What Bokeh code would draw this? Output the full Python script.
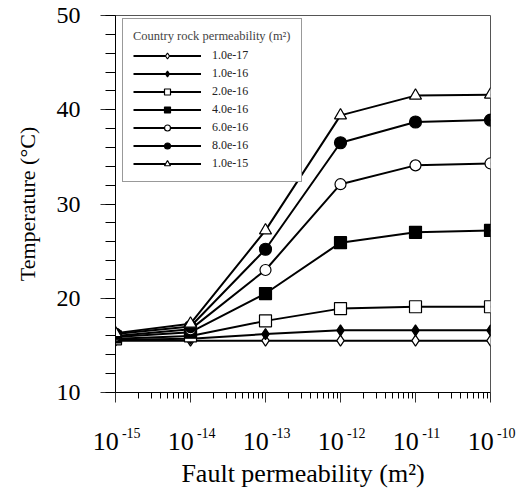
from bokeh.plotting import figure
from bokeh.models import (Range1d, FixedTicker, SingleIntervalTicker, CustomJSTickFormatter,
                          Legend, LegendItem, LogAxis)
from bokeh.embed import file_html
from bokeh.resources import INLINE

# ---- data ----
fault_perm = [1e-15, 1e-14, 1e-13, 1e-12, 1e-11, 1e-10]
decades = [-15, -14, -13, -12, -11, -10]
series_labels = ["1.0e-17", "1.0e-16", "2.0e-16", "4.0e-16", "6.0e-16", "8.0e-16", "1.0e-15"]
T_1e17 = [15.5, 15.5, 15.5, 15.5, 15.5, 15.5]
T_1e16 = [15.6, 15.7, 16.2, 16.6, 16.6, 16.6]
T_2e16 = [15.7, 16.0, 17.6, 18.9, 19.1, 19.1]
T_4e16 = [15.9, 16.4, 20.5, 25.9, 27.0, 27.2]
T_6e16 = [16.0, 16.7, 23.0, 32.1, 34.1, 34.3]
T_8e16 = [16.2, 17.0, 25.2, 36.5, 38.7, 38.9]
T_1e15 = [16.3, 17.3, 27.2, 39.4, 41.5, 41.6]
series_values = [T_1e17, T_1e16, T_2e16, T_4e16, T_6e16, T_8e16, T_1e15]

# ---- styles ----
markers = ["diamond", "diamond", "square", "square", "circle", "circle", "triangle"]
fills = ["white", "black", "white", "black", "white", "black", "white"]
sizes = [11, 11, 12, 12, 11, 12, 12]

FONT = "Liberation Serif"

p = figure(width=520, height=490, x_axis_type="log", output_backend="svg",
           toolbar_location=None, x_range=Range1d(1e-15, 1e-10), y_range=Range1d(10, 50),
           min_border_left=115, min_border_right=30, min_border_top=15, min_border_bottom=98)
p.background_fill_color = "white"
p.border_fill_color = "white"
p.xgrid.visible = False
p.ygrid.visible = False
p.outline_line_color = "#555555"
p.outline_line_width = 1

major = [10.0 ** d for d in decades]
minor = [k * 10.0 ** d for d in decades[:-1] for k in range(2, 10)]

# x axis (closest to frame): ticks + superscript exponents (padded so they sit right of the tick)
xa = p.xaxis[0]
xa.ticker = FixedTicker(ticks=major, minor_ticks=minor)
xa.formatter = CustomJSTickFormatter(
    code="return '\u2003\u2003\u00a0' + Math.round(Math.log10(tick)).toString();")
xa.major_tick_in = 0
xa.major_tick_out = 10
xa.minor_tick_in = 0
xa.minor_tick_out = 6
xa.major_label_standoff = 23
xa.major_label_text_font = FONT
xa.major_label_text_font_size = "14px"
xa.major_label_text_color = "black"
xa.axis_line_color = "black"
xa.major_tick_line_color = "#333333"
xa.minor_tick_line_color = "black"

# second x axis: base "10" of each tick label (padded so it sits left of the tick), plus title
xb = LogAxis(ticker=FixedTicker(ticks=major, minor_ticks=[]),
             formatter=CustomJSTickFormatter(code="return '10\u2002\u00a0';"))
xb.axis_line_color = None
xb.major_tick_line_color = None
xb.minor_tick_line_color = None
xb.major_tick_in = 0
xb.major_tick_out = 0
xb.major_label_standoff = -17
xb.major_label_text_font = FONT
xb.major_label_text_font_size = "26px"
xb.major_label_text_color = "black"
xb.axis_label = "Fault permeability (m\u00b2)"
xb.axis_label_text_font = FONT
xb.axis_label_text_font_size = "26px"
xb.axis_label_text_font_style = "normal"
xb.axis_label_text_color = "black"
xb.axis_label_standoff = 0
p.add_layout(xb, "below")

# y axis
ya = p.yaxis[0]
ya.ticker = SingleIntervalTicker(interval=10, num_minor_ticks=5)
ya.axis_label = "Temperature (\u00b0C)"
ya.major_tick_in = 0
ya.major_tick_out = 15
ya.minor_tick_in = 0
ya.minor_tick_out = 10
ya.major_label_standoff = 20
ya.axis_label_standoff = 14
ya.axis_line_color = "black"
ya.major_tick_line_color = "#333333"
ya.minor_tick_line_color = "black"
ya.major_label_text_font = FONT
ya.major_label_text_font_size = "24px"
ya.major_label_text_color = "black"
ya.axis_label_text_font = FONT
ya.axis_label_text_font_size = "22px"
ya.axis_label_text_font_style = "normal"
ya.axis_label_text_color = "black"

items = []
for lab, vals, m, fc, sz in zip(series_labels, series_values, markers, fills, sizes):
    ln = p.line(fault_perm, vals, line_color="black", line_width=2)
    sc = p.scatter(fault_perm, vals, marker=m, size=sz, fill_color=fc,
                   line_color="black", line_width=1.2)
    items.append(LegendItem(label=lab, renderers=[ln, sc]))

legend = Legend(items=items, location=(7, 210), title="Country rock permeability (m\u00b2)")
legend.title_text_font = FONT
legend.title_text_font_size = "12.5px"
legend.title_text_font_style = "normal"
legend.title_standoff = 4
legend.label_text_font = FONT
legend.label_text_font_size = "12px"
legend.label_text_color = "#222222"
legend.glyph_width = 68
legend.glyph_height = 15
legend.label_height = 15
legend.spacing = 3
legend.label_standoff = 11
legend.padding = 10
legend.border_line_color = "#333333"
legend.border_line_width = 1
legend.background_fill_color = "white"
legend.background_fill_alpha = 1
p.add_layout(legend)

open("out.html", "w").write(file_html(p, INLINE))
